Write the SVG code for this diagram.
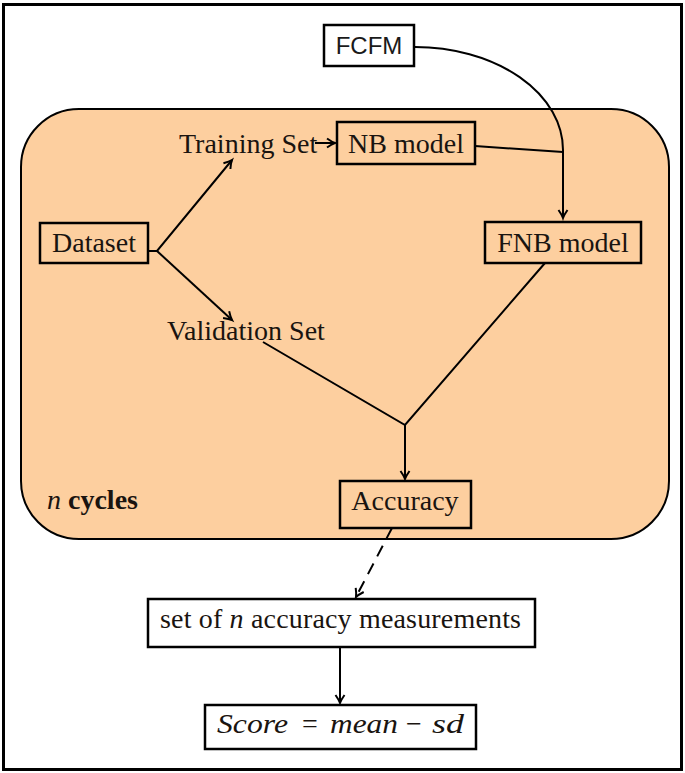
<svg xmlns="http://www.w3.org/2000/svg" width="685" height="773" viewBox="0 0 685 773">
<style>
.box{fill:none;stroke:#000;stroke-width:2.5}
.wbox{fill:#fff;stroke:#000;stroke-width:2.5}
.t{font-family:"Liberation Serif","Times New Roman",serif;font-size:28px;fill:#1a1410}
.s{font-family:"Liberation Sans",Arial,sans-serif;font-size:24px;fill:#1a1a1a}
.ln{fill:none;stroke:#000;stroke-width:2}
.i{font-style:italic}
</style>
<defs>
<marker id="ah" markerUnits="userSpaceOnUse" markerWidth="14" markerHeight="14" viewBox="-10 -7 14 14" refX="0" refY="0" orient="auto">
<path d="M-8,-4.5 Q-3,-1 0,0 Q-3,1 -8,4.5" fill="none" stroke="#000" stroke-width="2"/>
</marker>
</defs>
<rect x="0" y="0" width="685" height="773" fill="#fff"/>
<rect x="3.5" y="4.5" width="678" height="765" fill="none" stroke="#000" stroke-width="3"/>
<g id="cycles">
<rect x="21" y="109" width="648" height="430" rx="58" ry="58" fill="#FDCF9F" stroke="#000" stroke-width="2"/>
<text class="t" x="47" y="509"><tspan class="i">n</tspan> <tspan font-weight="bold">cycles</tspan></text>
</g>
<g id="connectors">
<path class="ln" d="M415,47 A148 103 0 0 1 563,150 L563,218" marker-end="url(#ah)"/>
<path class="ln" d="M475,146 L563,152"/>
<path class="ln" d="M315,143 L335,143" marker-end="url(#ah)" stroke-width="1.8"/>
<path class="ln" d="M148,251 L157,251 L232,160" marker-end="url(#ah)"/>
<path class="ln" d="M157,251 L232,320" marker-end="url(#ah)"/>
<path class="ln" d="M263,342 L405,425 L545,263"/>
<path class="ln" d="M405,425 L405,479" marker-end="url(#ah)"/>
<path class="ln" d="M392,528 L356,597" stroke-dasharray="12,8" marker-end="url(#ah)"/>
<path class="ln" d="M340,647 L340,703" marker-end="url(#ah)"/>
</g>
<g id="fcfm">
<rect class="wbox" x="324" y="25" width="90" height="41"/>
<text class="s" x="369" y="54" text-anchor="middle">FCFM</text>
</g>
<g id="training">
<text class="t" x="179" y="153">Training Set</text>
</g>
<g id="nb">
<rect class="box" x="337" y="122" width="138" height="42"/>
<text class="t" x="406" y="153" text-anchor="middle">NB model</text>
</g>
<g id="dataset">
<rect class="box" x="40" y="223" width="108" height="40"/>
<text class="t" x="94" y="252" text-anchor="middle">Dataset</text>
</g>
<g id="fnb">
<rect class="box" x="485" y="222" width="156" height="41"/>
<text class="t" x="563" y="252" text-anchor="middle">FNB model</text>
</g>
<g id="validation">
<text class="t" x="167" y="340">Validation Set</text>
</g>
<g id="accuracy">
<rect class="box" x="340" y="481" width="131" height="47"/>
<text class="t" x="405" y="510" text-anchor="middle">Accuracy</text>
</g>
<g id="set">
<rect class="wbox" x="148" y="599" width="387" height="48"/>
<text class="t" x="160" y="628" textLength="361">set of <tspan class="i">n</tspan> accuracy measurements</text>
</g>
<g id="score">
<rect class="wbox" x="205" y="705" width="271" height="44"/>
<text class="t i" x="217" y="733" textLength="71" lengthAdjust="spacingAndGlyphs">Score</text>
<text class="t" x="302" y="733">=</text>
<text class="t i" x="330" y="733" textLength="68" lengthAdjust="spacingAndGlyphs">mean</text>
<text class="t" x="406" y="733">−</text>
<text class="t i" x="432" y="733" textLength="32" lengthAdjust="spacingAndGlyphs">sd</text>
</g>
</svg>
